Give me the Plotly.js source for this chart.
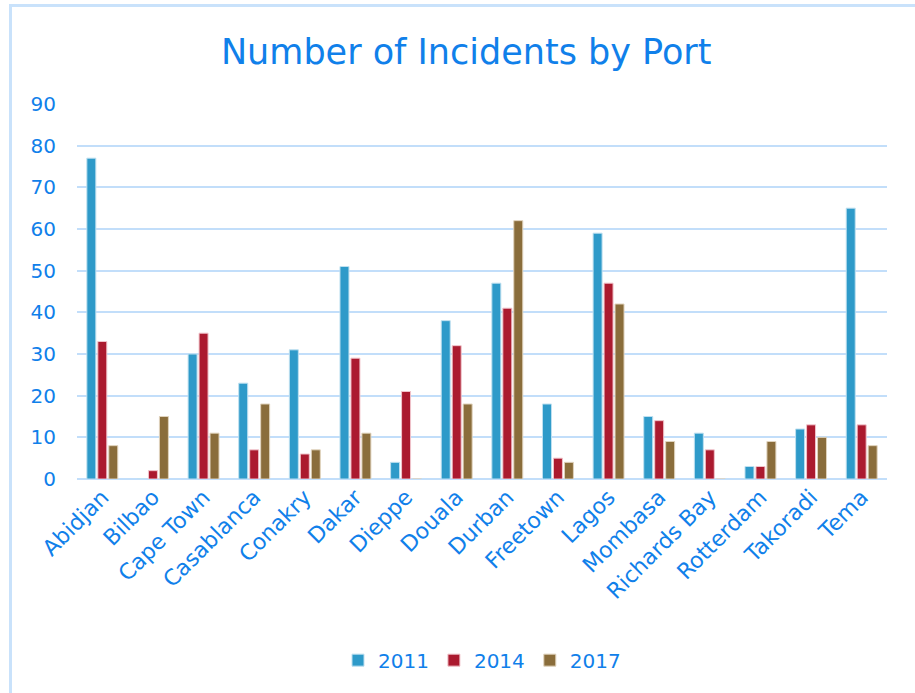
<!DOCTYPE html>
<html>
<head>
<meta charset="utf-8">
<script src="https://cdn.plot.ly/plotly-3.0.1.min.js"></script>
<style>
html, body { margin: 0; padding: 0; background: #fff; overflow: hidden; }
#frame { position: absolute; left: 9px; top: 4px; width: 920px; height: 700px; border-left: 3px solid #c9e2fb; border-top: 3px solid #c9e2fb; }
#chart { position: absolute; left: 0; top: 0; width: 903px; height: 686px; }
</style>
</head>
<body>
<div id="frame"><div id="chart"></div></div>
<script>
const ports = ["Abidjan","Bilbao","Cape Town","Casablanca","Conakry","Dakar","Dieppe","Douala","Durban","Freetown","Lagos","Mombasa","Richards Bay","Rotterdam","Takoradi","Tema"];
const y2011 = [77, 0, 30, 23, 31, 51, 4, 38, 47, 18, 59, 15, 11, 3, 12, 65];
const y2014 = [33, 2, 35, 7, 6, 29, 21, 32, 41, 5, 47, 14, 7, 3, 13, 13];
const y2017 = [8, 15, 11, 18, 7, 11, 0, 18, 62, 4, 42, 9, 0, 9, 10, 8];
const seriesNames = ["2011", "2014", "2017"];
const colors = ["#2e9ac9", "#ab1a2f", "#8a6d3b"];
const lineColors = ["#bfe0f0", "#f0c4cb", "#e0d3bd"];

const textColor = "#1080ea";
const font = "'DejaVu Sans', Lato, sans-serif";

const data = [y2011, y2014, y2017].map((vals, i) => ({
  type: "bar",
  name: seriesNames[i],
  x: ports,
  y: vals,
  marker: { color: colors[i], line: { color: lineColors[i], width: 1 } }
}));

const layout = {
  width: 903, height: 686,
  margin: { l: 65, r: 28, t: 97, b: 214 },
  paper_bgcolor: "#fff", plot_bgcolor: "#fff",
  font: { family: font, color: textColor },
  title: { text: "Number of Incidents by Port", font: { size: 35, color: textColor, family: font }, x: 0.503, xanchor: "center", y: 0.935, yanchor: "middle" },
  barmode: "group",
  bargap: 0.35,
  bargroupgap: 0.18,
  xaxis: {
    type: "category",
    tickangle: -45,
    tickfont: { size: 22, color: textColor },
    showgrid: false, zeroline: false, showline: false,
    ticks: ""
  },
  yaxis: {
    range: [0, 90],
    dtick: 10,
    tickfont: { size: 20, color: textColor },
    gridcolor: "#c2defa", gridwidth: 2,
    zeroline: true, zerolinecolor: "#c2defa", zerolinewidth: 2,
    showline: false,
    ticklabelstandoff: 20
  },
  legend: {
    orientation: "h", x: 0.5, xanchor: "center", y: -0.483, yanchor: "middle",
    font: { size: 20, color: textColor }, itemwidth: 30, traceorder: "normal"
  },
  showlegend: true
};

Plotly.newPlot("chart", data, layout, { displayModeBar: false, staticPlot: true });
</script>
</body>
</html>
